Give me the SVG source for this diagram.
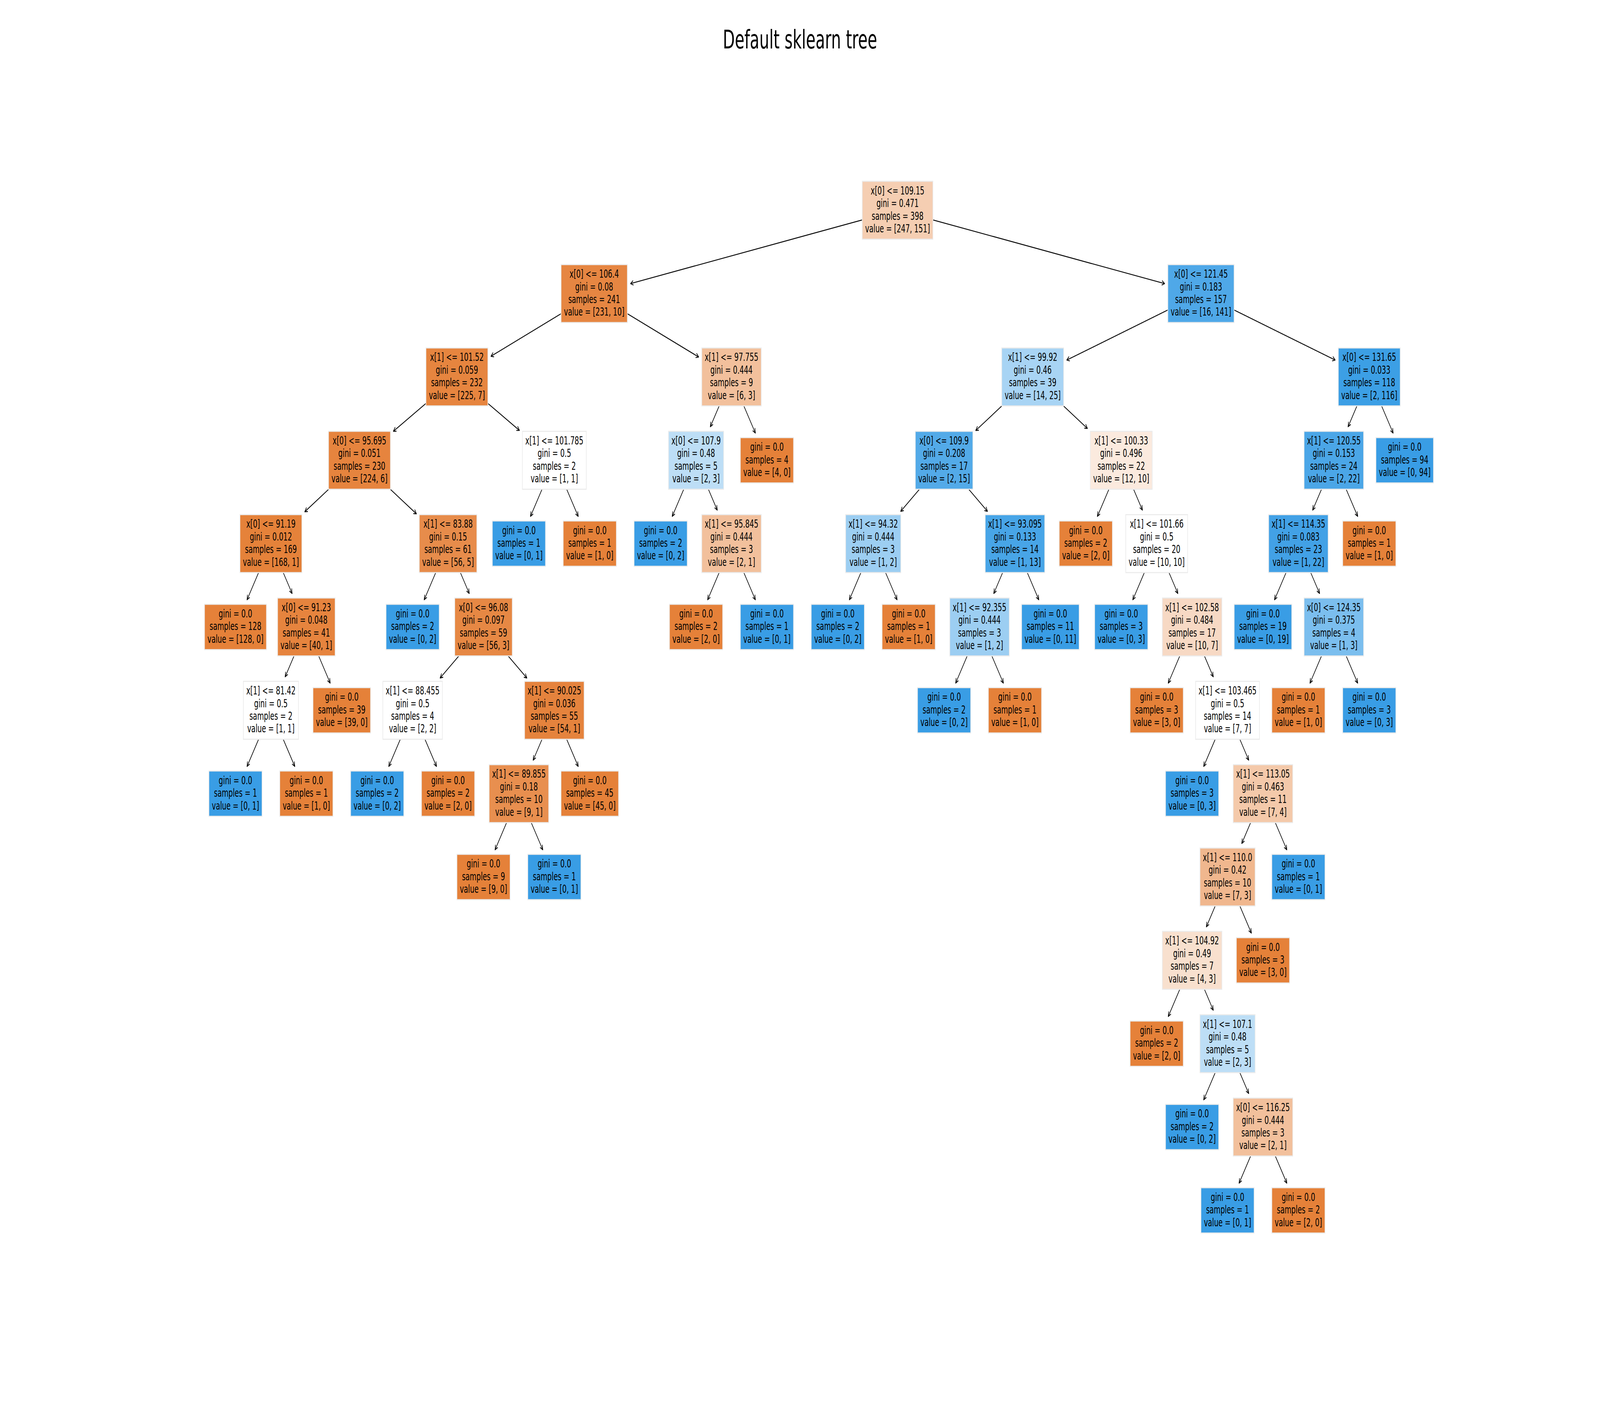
<svg xmlns="http://www.w3.org/2000/svg" width="6800" height="3600" viewBox="0 0 6800 3600" preserveAspectRatio="none" style="width:100vw;height:100vh;display:block">
<style>
.box{stroke:#ebebeb;stroke-width:2.7}
.t{font-family:"DejaVu Sans","Liberation Sans",sans-serif;font-size:29.2px;text-anchor:middle;fill:#000}
.title{font-family:"DejaVu Sans","Liberation Sans",sans-serif;font-size:66px;text-anchor:middle;fill:#000}
.c line{stroke:#000;stroke-width:2.4;fill:none;marker-end:url(#ah)}
</style>
<defs>
<marker id="ah" markerUnits="userSpaceOnUse" markerWidth="40" markerHeight="40" refX="0" refY="0" orient="auto" overflow="visible">
<path d="M-11.7,-5.85 L0,0 L-11.7,5.85" fill="none" stroke="#000" stroke-width="2.4" stroke-linejoin="round"/>
</marker>
</defs>
<rect width="6800" height="3600" fill="#fff"/>
<text class="title" x="3400" y="124">Default sklearn tree</text>
<g id="connectors" class="c">
<line x1="3814.7" y1="538.3" x2="2679.9" y2="726.1"/>
<line x1="3814.7" y1="538.3" x2="4949.6" y2="726.1"/>
<line x1="2525.4" y1="751.7" x2="2086.6" y2="912.2"/>
<line x1="2525.4" y1="751.7" x2="2969.3" y2="914.1"/>
<line x1="1941.9" y1="965.1" x2="1671.9" y2="1104.2"/>
<line x1="1941.9" y1="965.1" x2="2207.7" y2="1102.1"/>
<line x1="1527.8" y1="1178.5" x2="1295.2" y2="1310.4"/>
<line x1="1527.8" y1="1178.5" x2="1769.8" y2="1315.65"/>
<line x1="1151.4" y1="1391.9" x2="1049.9" y2="1535.7"/>
<line x1="1151.4" y1="1391.9" x2="1241.5" y2="1519.6"/>
<line x1="1302.0" y1="1605.3" x2="1211.9" y2="1733.0"/>
<line x1="1302.0" y1="1605.3" x2="1403.4" y2="1749.1"/>
<line x1="1151.4" y1="1818.7" x2="1049.9" y2="1962.5"/>
<line x1="1151.4" y1="1818.7" x2="1252.9" y2="1962.5"/>
<line x1="1904.3" y1="1391.9" x2="1802.8" y2="1535.7"/>
<line x1="1904.3" y1="1391.9" x2="1994.4" y2="1519.6"/>
<line x1="2054.9" y1="1605.3" x2="1870.5" y2="1736.0"/>
<line x1="2054.9" y1="1605.3" x2="2239.2" y2="1736.0"/>
<line x1="1753.7" y1="1818.7" x2="1652.2" y2="1962.5"/>
<line x1="1753.7" y1="1818.7" x2="1855.2" y2="1962.5"/>
<line x1="2356.0" y1="1818.7" x2="2265.9" y2="1946.4"/>
<line x1="2356.0" y1="1818.7" x2="2457.5" y2="1962.5"/>
<line x1="2205.4" y1="2032.1" x2="2104.0" y2="2175.9"/>
<line x1="2205.4" y1="2032.1" x2="2306.9" y2="2175.9"/>
<line x1="2356.0" y1="1178.5" x2="2254.5" y2="1322.3"/>
<line x1="2356.0" y1="1178.5" x2="2457.5" y2="1322.3"/>
<line x1="3108.9" y1="965.1" x2="3018.8" y2="1092.8"/>
<line x1="3108.9" y1="965.1" x2="3210.4" y2="1108.9"/>
<line x1="2958.3" y1="1178.5" x2="2856.9" y2="1322.3"/>
<line x1="2958.3" y1="1178.5" x2="3048.4" y2="1306.2"/>
<line x1="3108.9" y1="1391.9" x2="3007.4" y2="1535.7"/>
<line x1="3108.9" y1="1391.9" x2="3210.4" y2="1535.7"/>
<line x1="5104.1" y1="751.7" x2="4533.8" y2="921.9"/>
<line x1="5104.1" y1="751.7" x2="5674.5" y2="921.9"/>
<line x1="4388.9" y1="965.1" x2="4146.9" y2="1102.25"/>
<line x1="4388.9" y1="965.1" x2="4621.5" y2="1097.0"/>
<line x1="4012.4" y1="1178.5" x2="3828.0" y2="1309.2"/>
<line x1="4012.4" y1="1178.5" x2="4196.8" y2="1309.2"/>
<line x1="3711.2" y1="1391.9" x2="3609.8" y2="1535.7"/>
<line x1="3711.2" y1="1391.9" x2="3812.7" y2="1535.7"/>
<line x1="4313.6" y1="1391.9" x2="4223.5" y2="1519.6"/>
<line x1="4313.6" y1="1391.9" x2="4415.0" y2="1535.7"/>
<line x1="4163.0" y1="1605.3" x2="4061.5" y2="1749.1"/>
<line x1="4163.0" y1="1605.3" x2="4264.5" y2="1749.1"/>
<line x1="4765.3" y1="1178.5" x2="4663.8" y2="1322.3"/>
<line x1="4765.3" y1="1178.5" x2="4855.4" y2="1306.2"/>
<line x1="4915.9" y1="1391.9" x2="4814.4" y2="1535.7"/>
<line x1="4915.9" y1="1391.9" x2="5006.0" y2="1519.6"/>
<line x1="5066.5" y1="1605.3" x2="4965.0" y2="1749.1"/>
<line x1="5066.5" y1="1605.3" x2="5156.5" y2="1733.0"/>
<line x1="5217.0" y1="1818.7" x2="5115.6" y2="1962.5"/>
<line x1="5217.0" y1="1818.7" x2="5307.1" y2="1946.4"/>
<line x1="5367.6" y1="2032.1" x2="5277.5" y2="2159.8"/>
<line x1="5367.6" y1="2032.1" x2="5469.1" y2="2175.9"/>
<line x1="5217.0" y1="2245.5" x2="5127.0" y2="2373.2"/>
<line x1="5217.0" y1="2245.5" x2="5318.5" y2="2389.3"/>
<line x1="5066.5" y1="2458.9" x2="4965.0" y2="2602.7"/>
<line x1="5066.5" y1="2458.9" x2="5156.5" y2="2586.6"/>
<line x1="5217.0" y1="2672.3" x2="5115.6" y2="2816.1"/>
<line x1="5217.0" y1="2672.3" x2="5307.1" y2="2800.0"/>
<line x1="5367.6" y1="2885.7" x2="5266.1" y2="3029.5"/>
<line x1="5367.6" y1="2885.7" x2="5469.1" y2="3029.5"/>
<line x1="5819.4" y1="965.1" x2="5729.3" y2="1092.8"/>
<line x1="5819.4" y1="965.1" x2="5920.9" y2="1108.9"/>
<line x1="5668.8" y1="1178.5" x2="5578.7" y2="1306.2"/>
<line x1="5668.8" y1="1178.5" x2="5770.3" y2="1322.3"/>
<line x1="5518.2" y1="1391.9" x2="5416.7" y2="1535.7"/>
<line x1="5518.2" y1="1391.9" x2="5608.3" y2="1519.6"/>
<line x1="5668.8" y1="1605.3" x2="5567.3" y2="1749.1"/>
<line x1="5668.8" y1="1605.3" x2="5770.3" y2="1749.1"/>
</g>
<g id="n0" transform="translate(3814.7,538.3)"><rect class="box" x="-150.15" y="-74.15" width="300.3" height="148.3" fill="#f5ceb2"/><text class="t"><tspan x="0" y="-40.7">x[0] &lt;= 109.15</tspan><tspan x="0" y="-8.2">gini = 0.471</tspan><tspan x="0" y="24.3">samples = 398</tspan><tspan x="0" y="56.8">value = [247, 151]</tspan></text></g>
<g id="n1" transform="translate(2525.4,751.7)"><rect class="box" x="-140.85" y="-74.15" width="281.7" height="148.3" fill="#e68642"/><text class="t"><tspan x="0" y="-40.7">x[0] &lt;= 106.4</tspan><tspan x="0" y="-8.2">gini = 0.08</tspan><tspan x="0" y="24.3">samples = 241</tspan><tspan x="0" y="56.8">value = [231, 10]</tspan></text></g>
<g id="n2" transform="translate(1941.9,965.1)"><rect class="box" x="-131.6" y="-74.15" width="263.2" height="148.3" fill="#e6853f"/><text class="t"><tspan x="0" y="-40.7">x[1] &lt;= 101.52</tspan><tspan x="0" y="-8.2">gini = 0.059</tspan><tspan x="0" y="24.3">samples = 232</tspan><tspan x="0" y="56.8">value = [225, 7]</tspan></text></g>
<g id="n3" transform="translate(1527.8,1178.5)"><rect class="box" x="-131.6" y="-74.15" width="263.2" height="148.3" fill="#e6843e"/><text class="t"><tspan x="0" y="-40.7">x[0] &lt;= 95.695</tspan><tspan x="0" y="-8.2">gini = 0.051</tspan><tspan x="0" y="24.3">samples = 230</tspan><tspan x="0" y="56.8">value = [224, 6]</tspan></text></g>
<g id="n4" transform="translate(1151.4,1391.9)"><rect class="box" x="-131.6" y="-74.15" width="263.2" height="148.3" fill="#e5823a"/><text class="t"><tspan x="0" y="-40.7">x[0] &lt;= 91.19</tspan><tspan x="0" y="-8.2">gini = 0.012</tspan><tspan x="0" y="24.3">samples = 169</tspan><tspan x="0" y="56.8">value = [168, 1]</tspan></text></g>
<g id="n5" transform="translate(1000.8,1605.3)"><rect class="box" x="-131.6" y="-58" width="263.2" height="116" fill="#e58139"/><text class="t"><tspan x="0" y="-24.4">gini = 0.0</tspan><tspan x="0" y="8.1">samples = 128</tspan><tspan x="0" y="40.6">value = [128, 0]</tspan></text></g>
<g id="n6" transform="translate(1302.0,1605.3)"><rect class="box" x="-122.3" y="-74.15" width="244.6" height="148.3" fill="#e6843e"/><text class="t"><tspan x="0" y="-40.7">x[0] &lt;= 91.23</tspan><tspan x="0" y="-8.2">gini = 0.048</tspan><tspan x="0" y="24.3">samples = 41</tspan><tspan x="0" y="56.8">value = [40, 1]</tspan></text></g>
<g id="n7" transform="translate(1151.4,1818.7)"><rect class="box" x="-117.2" y="-74.15" width="234.4" height="148.3" fill="#ffffff"/><text class="t"><tspan x="0" y="-40.7">x[1] &lt;= 81.42</tspan><tspan x="0" y="-8.2">gini = 0.5</tspan><tspan x="0" y="24.3">samples = 2</tspan><tspan x="0" y="56.8">value = [1, 1]</tspan></text></g>
<g id="n8" transform="translate(1000.8,2032.1)"><rect class="box" x="-113" y="-58" width="226" height="116" fill="#399de5"/><text class="t"><tspan x="0" y="-24.4">gini = 0.0</tspan><tspan x="0" y="8.1">samples = 1</tspan><tspan x="0" y="40.6">value = [0, 1]</tspan></text></g>
<g id="n9" transform="translate(1302.0,2032.1)"><rect class="box" x="-113" y="-58" width="226" height="116" fill="#e58139"/><text class="t"><tspan x="0" y="-24.4">gini = 0.0</tspan><tspan x="0" y="8.1">samples = 1</tspan><tspan x="0" y="40.6">value = [1, 0]</tspan></text></g>
<g id="n10" transform="translate(1452.5,1818.7)"><rect class="box" x="-122.3" y="-58" width="244.6" height="116" fill="#e58139"/><text class="t"><tspan x="0" y="-24.4">gini = 0.0</tspan><tspan x="0" y="8.1">samples = 39</tspan><tspan x="0" y="40.6">value = [39, 0]</tspan></text></g>
<g id="n11" transform="translate(1904.3,1391.9)"><rect class="box" x="-122.3" y="-74.15" width="244.6" height="148.3" fill="#e78c4b"/><text class="t"><tspan x="0" y="-40.7">x[1] &lt;= 83.88</tspan><tspan x="0" y="-8.2">gini = 0.15</tspan><tspan x="0" y="24.3">samples = 61</tspan><tspan x="0" y="56.8">value = [56, 5]</tspan></text></g>
<g id="n12" transform="translate(1753.7,1605.3)"><rect class="box" x="-113" y="-58" width="226" height="116" fill="#399de5"/><text class="t"><tspan x="0" y="-24.4">gini = 0.0</tspan><tspan x="0" y="8.1">samples = 2</tspan><tspan x="0" y="40.6">value = [0, 2]</tspan></text></g>
<g id="n13" transform="translate(2054.9,1605.3)"><rect class="box" x="-122.3" y="-74.15" width="244.6" height="148.3" fill="#e68844"/><text class="t"><tspan x="0" y="-40.7">x[0] &lt;= 96.08</tspan><tspan x="0" y="-8.2">gini = 0.097</tspan><tspan x="0" y="24.3">samples = 59</tspan><tspan x="0" y="56.8">value = [56, 3]</tspan></text></g>
<g id="n14" transform="translate(1753.7,1818.7)"><rect class="box" x="-126.5" y="-74.15" width="253" height="148.3" fill="#ffffff"/><text class="t"><tspan x="0" y="-40.7">x[1] &lt;= 88.455</tspan><tspan x="0" y="-8.2">gini = 0.5</tspan><tspan x="0" y="24.3">samples = 4</tspan><tspan x="0" y="56.8">value = [2, 2]</tspan></text></g>
<g id="n15" transform="translate(1603.1,2032.1)"><rect class="box" x="-113" y="-58" width="226" height="116" fill="#399de5"/><text class="t"><tspan x="0" y="-24.4">gini = 0.0</tspan><tspan x="0" y="8.1">samples = 2</tspan><tspan x="0" y="40.6">value = [0, 2]</tspan></text></g>
<g id="n16" transform="translate(1904.3,2032.1)"><rect class="box" x="-113" y="-58" width="226" height="116" fill="#e58139"/><text class="t"><tspan x="0" y="-24.4">gini = 0.0</tspan><tspan x="0" y="8.1">samples = 2</tspan><tspan x="0" y="40.6">value = [2, 0]</tspan></text></g>
<g id="n17" transform="translate(2356.0,1818.7)"><rect class="box" x="-126.5" y="-74.15" width="253" height="148.3" fill="#e5833d"/><text class="t"><tspan x="0" y="-40.7">x[1] &lt;= 90.025</tspan><tspan x="0" y="-8.2">gini = 0.036</tspan><tspan x="0" y="24.3">samples = 55</tspan><tspan x="0" y="56.8">value = [54, 1]</tspan></text></g>
<g id="n18" transform="translate(2205.4,2032.1)"><rect class="box" x="-126.5" y="-74.15" width="253" height="148.3" fill="#e88f4f"/><text class="t"><tspan x="0" y="-40.7">x[1] &lt;= 89.855</tspan><tspan x="0" y="-8.2">gini = 0.18</tspan><tspan x="0" y="24.3">samples = 10</tspan><tspan x="0" y="56.8">value = [9, 1]</tspan></text></g>
<g id="n19" transform="translate(2054.9,2245.5)"><rect class="box" x="-113" y="-58" width="226" height="116" fill="#e58139"/><text class="t"><tspan x="0" y="-24.4">gini = 0.0</tspan><tspan x="0" y="8.1">samples = 9</tspan><tspan x="0" y="40.6">value = [9, 0]</tspan></text></g>
<g id="n20" transform="translate(2356.0,2245.5)"><rect class="box" x="-113" y="-58" width="226" height="116" fill="#399de5"/><text class="t"><tspan x="0" y="-24.4">gini = 0.0</tspan><tspan x="0" y="8.1">samples = 1</tspan><tspan x="0" y="40.6">value = [0, 1]</tspan></text></g>
<g id="n21" transform="translate(2506.6,2032.1)"><rect class="box" x="-122.3" y="-58" width="244.6" height="116" fill="#e58139"/><text class="t"><tspan x="0" y="-24.4">gini = 0.0</tspan><tspan x="0" y="8.1">samples = 45</tspan><tspan x="0" y="40.6">value = [45, 0]</tspan></text></g>
<g id="n22" transform="translate(2356.0,1178.5)"><rect class="box" x="-135.8" y="-74.15" width="271.6" height="148.3" fill="#ffffff"/><text class="t"><tspan x="0" y="-40.7">x[1] &lt;= 101.785</tspan><tspan x="0" y="-8.2">gini = 0.5</tspan><tspan x="0" y="24.3">samples = 2</tspan><tspan x="0" y="56.8">value = [1, 1]</tspan></text></g>
<g id="n23" transform="translate(2205.4,1391.9)"><rect class="box" x="-113" y="-58" width="226" height="116" fill="#399de5"/><text class="t"><tspan x="0" y="-24.4">gini = 0.0</tspan><tspan x="0" y="8.1">samples = 1</tspan><tspan x="0" y="40.6">value = [0, 1]</tspan></text></g>
<g id="n24" transform="translate(2506.6,1391.9)"><rect class="box" x="-113" y="-58" width="226" height="116" fill="#e58139"/><text class="t"><tspan x="0" y="-24.4">gini = 0.0</tspan><tspan x="0" y="8.1">samples = 1</tspan><tspan x="0" y="40.6">value = [1, 0]</tspan></text></g>
<g id="n25" transform="translate(3108.9,965.1)"><rect class="box" x="-126.5" y="-74.15" width="253" height="148.3" fill="#f2c09c"/><text class="t"><tspan x="0" y="-40.7">x[1] &lt;= 97.755</tspan><tspan x="0" y="-8.2">gini = 0.444</tspan><tspan x="0" y="24.3">samples = 9</tspan><tspan x="0" y="56.8">value = [6, 3]</tspan></text></g>
<g id="n26" transform="translate(2958.3,1178.5)"><rect class="box" x="-117.2" y="-74.15" width="234.4" height="148.3" fill="#bddef6"/><text class="t"><tspan x="0" y="-40.7">x[0] &lt;= 107.9</tspan><tspan x="0" y="-8.2">gini = 0.48</tspan><tspan x="0" y="24.3">samples = 5</tspan><tspan x="0" y="56.8">value = [2, 3]</tspan></text></g>
<g id="n27" transform="translate(2807.8,1391.9)"><rect class="box" x="-113" y="-58" width="226" height="116" fill="#399de5"/><text class="t"><tspan x="0" y="-24.4">gini = 0.0</tspan><tspan x="0" y="8.1">samples = 2</tspan><tspan x="0" y="40.6">value = [0, 2]</tspan></text></g>
<g id="n28" transform="translate(3108.9,1391.9)"><rect class="box" x="-126.5" y="-74.15" width="253" height="148.3" fill="#f2c09c"/><text class="t"><tspan x="0" y="-40.7">x[1] &lt;= 95.845</tspan><tspan x="0" y="-8.2">gini = 0.444</tspan><tspan x="0" y="24.3">samples = 3</tspan><tspan x="0" y="56.8">value = [2, 1]</tspan></text></g>
<g id="n29" transform="translate(2958.3,1605.3)"><rect class="box" x="-113" y="-58" width="226" height="116" fill="#e58139"/><text class="t"><tspan x="0" y="-24.4">gini = 0.0</tspan><tspan x="0" y="8.1">samples = 2</tspan><tspan x="0" y="40.6">value = [2, 0]</tspan></text></g>
<g id="n30" transform="translate(3259.5,1605.3)"><rect class="box" x="-113" y="-58" width="226" height="116" fill="#399de5"/><text class="t"><tspan x="0" y="-24.4">gini = 0.0</tspan><tspan x="0" y="8.1">samples = 1</tspan><tspan x="0" y="40.6">value = [0, 1]</tspan></text></g>
<g id="n31" transform="translate(3259.5,1178.5)"><rect class="box" x="-113" y="-58" width="226" height="116" fill="#e58139"/><text class="t"><tspan x="0" y="-24.4">gini = 0.0</tspan><tspan x="0" y="8.1">samples = 4</tspan><tspan x="0" y="40.6">value = [4, 0]</tspan></text></g>
<g id="n32" transform="translate(5104.1,751.7)"><rect class="box" x="-140.85" y="-74.15" width="281.7" height="148.3" fill="#4fa8e8"/><text class="t"><tspan x="0" y="-40.7">x[0] &lt;= 121.45</tspan><tspan x="0" y="-8.2">gini = 0.183</tspan><tspan x="0" y="24.3">samples = 157</tspan><tspan x="0" y="56.8">value = [16, 141]</tspan></text></g>
<g id="n33" transform="translate(4388.9,965.1)"><rect class="box" x="-131.6" y="-74.15" width="263.2" height="148.3" fill="#a8d4f4"/><text class="t"><tspan x="0" y="-40.7">x[1] &lt;= 99.92</tspan><tspan x="0" y="-8.2">gini = 0.46</tspan><tspan x="0" y="24.3">samples = 39</tspan><tspan x="0" y="56.8">value = [14, 25]</tspan></text></g>
<g id="n34" transform="translate(4012.4,1178.5)"><rect class="box" x="-122.3" y="-74.15" width="244.6" height="148.3" fill="#53aae8"/><text class="t"><tspan x="0" y="-40.7">x[0] &lt;= 109.9</tspan><tspan x="0" y="-8.2">gini = 0.208</tspan><tspan x="0" y="24.3">samples = 17</tspan><tspan x="0" y="56.8">value = [2, 15]</tspan></text></g>
<g id="n35" transform="translate(3711.2,1391.9)"><rect class="box" x="-117.2" y="-74.15" width="234.4" height="148.3" fill="#9ccef2"/><text class="t"><tspan x="0" y="-40.7">x[1] &lt;= 94.32</tspan><tspan x="0" y="-8.2">gini = 0.444</tspan><tspan x="0" y="24.3">samples = 3</tspan><tspan x="0" y="56.8">value = [1, 2]</tspan></text></g>
<g id="n36" transform="translate(3560.7,1605.3)"><rect class="box" x="-113" y="-58" width="226" height="116" fill="#399de5"/><text class="t"><tspan x="0" y="-24.4">gini = 0.0</tspan><tspan x="0" y="8.1">samples = 2</tspan><tspan x="0" y="40.6">value = [0, 2]</tspan></text></g>
<g id="n37" transform="translate(3861.8,1605.3)"><rect class="box" x="-113" y="-58" width="226" height="116" fill="#e58139"/><text class="t"><tspan x="0" y="-24.4">gini = 0.0</tspan><tspan x="0" y="8.1">samples = 1</tspan><tspan x="0" y="40.6">value = [1, 0]</tspan></text></g>
<g id="n38" transform="translate(4313.6,1391.9)"><rect class="box" x="-126.5" y="-74.15" width="253" height="148.3" fill="#48a5e7"/><text class="t"><tspan x="0" y="-40.7">x[1] &lt;= 93.095</tspan><tspan x="0" y="-8.2">gini = 0.133</tspan><tspan x="0" y="24.3">samples = 14</tspan><tspan x="0" y="56.8">value = [1, 13]</tspan></text></g>
<g id="n39" transform="translate(4163.0,1605.3)"><rect class="box" x="-126.5" y="-74.15" width="253" height="148.3" fill="#9ccef2"/><text class="t"><tspan x="0" y="-40.7">x[1] &lt;= 92.355</tspan><tspan x="0" y="-8.2">gini = 0.444</tspan><tspan x="0" y="24.3">samples = 3</tspan><tspan x="0" y="56.8">value = [1, 2]</tspan></text></g>
<g id="n40" transform="translate(4012.4,1818.7)"><rect class="box" x="-113" y="-58" width="226" height="116" fill="#399de5"/><text class="t"><tspan x="0" y="-24.4">gini = 0.0</tspan><tspan x="0" y="8.1">samples = 2</tspan><tspan x="0" y="40.6">value = [0, 2]</tspan></text></g>
<g id="n41" transform="translate(4313.6,1818.7)"><rect class="box" x="-113" y="-58" width="226" height="116" fill="#e58139"/><text class="t"><tspan x="0" y="-24.4">gini = 0.0</tspan><tspan x="0" y="8.1">samples = 1</tspan><tspan x="0" y="40.6">value = [1, 0]</tspan></text></g>
<g id="n42" transform="translate(4464.1,1605.3)"><rect class="box" x="-122.3" y="-58" width="244.6" height="116" fill="#399de5"/><text class="t"><tspan x="0" y="-24.4">gini = 0.0</tspan><tspan x="0" y="8.1">samples = 11</tspan><tspan x="0" y="40.6">value = [0, 11]</tspan></text></g>
<g id="n43" transform="translate(4765.3,1178.5)"><rect class="box" x="-131.6" y="-74.15" width="263.2" height="148.3" fill="#fbeade"/><text class="t"><tspan x="0" y="-40.7">x[1] &lt;= 100.33</tspan><tspan x="0" y="-8.2">gini = 0.496</tspan><tspan x="0" y="24.3">samples = 22</tspan><tspan x="0" y="56.8">value = [12, 10]</tspan></text></g>
<g id="n44" transform="translate(4614.7,1391.9)"><rect class="box" x="-113" y="-58" width="226" height="116" fill="#e58139"/><text class="t"><tspan x="0" y="-24.4">gini = 0.0</tspan><tspan x="0" y="8.1">samples = 2</tspan><tspan x="0" y="40.6">value = [2, 0]</tspan></text></g>
<g id="n45" transform="translate(4915.9,1391.9)"><rect class="box" x="-131.6" y="-74.15" width="263.2" height="148.3" fill="#ffffff"/><text class="t"><tspan x="0" y="-40.7">x[1] &lt;= 101.66</tspan><tspan x="0" y="-8.2">gini = 0.5</tspan><tspan x="0" y="24.3">samples = 20</tspan><tspan x="0" y="56.8">value = [10, 10]</tspan></text></g>
<g id="n46" transform="translate(4765.3,1605.3)"><rect class="box" x="-113" y="-58" width="226" height="116" fill="#399de5"/><text class="t"><tspan x="0" y="-24.4">gini = 0.0</tspan><tspan x="0" y="8.1">samples = 3</tspan><tspan x="0" y="40.6">value = [0, 3]</tspan></text></g>
<g id="n47" transform="translate(5066.5,1605.3)"><rect class="box" x="-126.5" y="-74.15" width="253" height="148.3" fill="#f7d9c4"/><text class="t"><tspan x="0" y="-40.7">x[1] &lt;= 102.58</tspan><tspan x="0" y="-8.2">gini = 0.484</tspan><tspan x="0" y="24.3">samples = 17</tspan><tspan x="0" y="56.8">value = [10, 7]</tspan></text></g>
<g id="n48" transform="translate(4915.9,1818.7)"><rect class="box" x="-113" y="-58" width="226" height="116" fill="#e58139"/><text class="t"><tspan x="0" y="-24.4">gini = 0.0</tspan><tspan x="0" y="8.1">samples = 3</tspan><tspan x="0" y="40.6">value = [3, 0]</tspan></text></g>
<g id="n49" transform="translate(5217.0,1818.7)"><rect class="box" x="-135.8" y="-74.15" width="271.6" height="148.3" fill="#ffffff"/><text class="t"><tspan x="0" y="-40.7">x[1] &lt;= 103.465</tspan><tspan x="0" y="-8.2">gini = 0.5</tspan><tspan x="0" y="24.3">samples = 14</tspan><tspan x="0" y="56.8">value = [7, 7]</tspan></text></g>
<g id="n50" transform="translate(5066.5,2032.1)"><rect class="box" x="-113" y="-58" width="226" height="116" fill="#399de5"/><text class="t"><tspan x="0" y="-24.4">gini = 0.0</tspan><tspan x="0" y="8.1">samples = 3</tspan><tspan x="0" y="40.6">value = [0, 3]</tspan></text></g>
<g id="n51" transform="translate(5367.6,2032.1)"><rect class="box" x="-126.5" y="-74.15" width="253" height="148.3" fill="#f4c9aa"/><text class="t"><tspan x="0" y="-40.7">x[1] &lt;= 113.05</tspan><tspan x="0" y="-8.2">gini = 0.463</tspan><tspan x="0" y="24.3">samples = 11</tspan><tspan x="0" y="56.8">value = [7, 4]</tspan></text></g>
<g id="n52" transform="translate(5217.0,2245.5)"><rect class="box" x="-117.2" y="-74.15" width="234.4" height="148.3" fill="#f0b78e"/><text class="t"><tspan x="0" y="-40.7">x[1] &lt;= 110.0</tspan><tspan x="0" y="-8.2">gini = 0.42</tspan><tspan x="0" y="24.3">samples = 10</tspan><tspan x="0" y="56.8">value = [7, 3]</tspan></text></g>
<g id="n53" transform="translate(5066.5,2458.9)"><rect class="box" x="-126.5" y="-74.15" width="253" height="148.3" fill="#f8e0ce"/><text class="t"><tspan x="0" y="-40.7">x[1] &lt;= 104.92</tspan><tspan x="0" y="-8.2">gini = 0.49</tspan><tspan x="0" y="24.3">samples = 7</tspan><tspan x="0" y="56.8">value = [4, 3]</tspan></text></g>
<g id="n54" transform="translate(4915.9,2672.3)"><rect class="box" x="-113" y="-58" width="226" height="116" fill="#e58139"/><text class="t"><tspan x="0" y="-24.4">gini = 0.0</tspan><tspan x="0" y="8.1">samples = 2</tspan><tspan x="0" y="40.6">value = [2, 0]</tspan></text></g>
<g id="n55" transform="translate(5217.0,2672.3)"><rect class="box" x="-117.2" y="-74.15" width="234.4" height="148.3" fill="#bddef6"/><text class="t"><tspan x="0" y="-40.7">x[1] &lt;= 107.1</tspan><tspan x="0" y="-8.2">gini = 0.48</tspan><tspan x="0" y="24.3">samples = 5</tspan><tspan x="0" y="56.8">value = [2, 3]</tspan></text></g>
<g id="n56" transform="translate(5066.5,2885.7)"><rect class="box" x="-113" y="-58" width="226" height="116" fill="#399de5"/><text class="t"><tspan x="0" y="-24.4">gini = 0.0</tspan><tspan x="0" y="8.1">samples = 2</tspan><tspan x="0" y="40.6">value = [0, 2]</tspan></text></g>
<g id="n57" transform="translate(5367.6,2885.7)"><rect class="box" x="-126.5" y="-74.15" width="253" height="148.3" fill="#f2c09c"/><text class="t"><tspan x="0" y="-40.7">x[0] &lt;= 116.25</tspan><tspan x="0" y="-8.2">gini = 0.444</tspan><tspan x="0" y="24.3">samples = 3</tspan><tspan x="0" y="56.8">value = [2, 1]</tspan></text></g>
<g id="n58" transform="translate(5217.0,3099.1)"><rect class="box" x="-113" y="-58" width="226" height="116" fill="#399de5"/><text class="t"><tspan x="0" y="-24.4">gini = 0.0</tspan><tspan x="0" y="8.1">samples = 1</tspan><tspan x="0" y="40.6">value = [0, 1]</tspan></text></g>
<g id="n59" transform="translate(5518.2,3099.1)"><rect class="box" x="-113" y="-58" width="226" height="116" fill="#e58139"/><text class="t"><tspan x="0" y="-24.4">gini = 0.0</tspan><tspan x="0" y="8.1">samples = 2</tspan><tspan x="0" y="40.6">value = [2, 0]</tspan></text></g>
<g id="n60" transform="translate(5367.6,2458.9)"><rect class="box" x="-113" y="-58" width="226" height="116" fill="#e58139"/><text class="t"><tspan x="0" y="-24.4">gini = 0.0</tspan><tspan x="0" y="8.1">samples = 3</tspan><tspan x="0" y="40.6">value = [3, 0]</tspan></text></g>
<g id="n61" transform="translate(5518.2,2245.5)"><rect class="box" x="-113" y="-58" width="226" height="116" fill="#399de5"/><text class="t"><tspan x="0" y="-24.4">gini = 0.0</tspan><tspan x="0" y="8.1">samples = 1</tspan><tspan x="0" y="40.6">value = [0, 1]</tspan></text></g>
<g id="n62" transform="translate(5819.4,965.1)"><rect class="box" x="-131.6" y="-74.15" width="263.2" height="148.3" fill="#3c9fe5"/><text class="t"><tspan x="0" y="-40.7">x[0] &lt;= 131.65</tspan><tspan x="0" y="-8.2">gini = 0.033</tspan><tspan x="0" y="24.3">samples = 118</tspan><tspan x="0" y="56.8">value = [2, 116]</tspan></text></g>
<g id="n63" transform="translate(5668.8,1178.5)"><rect class="box" x="-126.5" y="-74.15" width="253" height="148.3" fill="#4ba6e7"/><text class="t"><tspan x="0" y="-40.7">x[1] &lt;= 120.55</tspan><tspan x="0" y="-8.2">gini = 0.153</tspan><tspan x="0" y="24.3">samples = 24</tspan><tspan x="0" y="56.8">value = [2, 22]</tspan></text></g>
<g id="n64" transform="translate(5518.2,1391.9)"><rect class="box" x="-126.5" y="-74.15" width="253" height="148.3" fill="#42a1e6"/><text class="t"><tspan x="0" y="-40.7">x[1] &lt;= 114.35</tspan><tspan x="0" y="-8.2">gini = 0.083</tspan><tspan x="0" y="24.3">samples = 23</tspan><tspan x="0" y="56.8">value = [1, 22]</tspan></text></g>
<g id="n65" transform="translate(5367.6,1605.3)"><rect class="box" x="-122.3" y="-58" width="244.6" height="116" fill="#399de5"/><text class="t"><tspan x="0" y="-24.4">gini = 0.0</tspan><tspan x="0" y="8.1">samples = 19</tspan><tspan x="0" y="40.6">value = [0, 19]</tspan></text></g>
<g id="n66" transform="translate(5668.8,1605.3)"><rect class="box" x="-126.5" y="-74.15" width="253" height="148.3" fill="#7bbeee"/><text class="t"><tspan x="0" y="-40.7">x[0] &lt;= 124.35</tspan><tspan x="0" y="-8.2">gini = 0.375</tspan><tspan x="0" y="24.3">samples = 4</tspan><tspan x="0" y="56.8">value = [1, 3]</tspan></text></g>
<g id="n67" transform="translate(5518.2,1818.7)"><rect class="box" x="-113" y="-58" width="226" height="116" fill="#e58139"/><text class="t"><tspan x="0" y="-24.4">gini = 0.0</tspan><tspan x="0" y="8.1">samples = 1</tspan><tspan x="0" y="40.6">value = [1, 0]</tspan></text></g>
<g id="n68" transform="translate(5819.4,1818.7)"><rect class="box" x="-113" y="-58" width="226" height="116" fill="#399de5"/><text class="t"><tspan x="0" y="-24.4">gini = 0.0</tspan><tspan x="0" y="8.1">samples = 3</tspan><tspan x="0" y="40.6">value = [0, 3]</tspan></text></g>
<g id="n69" transform="translate(5819.4,1391.9)"><rect class="box" x="-113" y="-58" width="226" height="116" fill="#e58139"/><text class="t"><tspan x="0" y="-24.4">gini = 0.0</tspan><tspan x="0" y="8.1">samples = 1</tspan><tspan x="0" y="40.6">value = [1, 0]</tspan></text></g>
<g id="n70" transform="translate(5970.0,1178.5)"><rect class="box" x="-122.3" y="-58" width="244.6" height="116" fill="#399de5"/><text class="t"><tspan x="0" y="-24.4">gini = 0.0</tspan><tspan x="0" y="8.1">samples = 94</tspan><tspan x="0" y="40.6">value = [0, 94]</tspan></text></g>
</svg>
